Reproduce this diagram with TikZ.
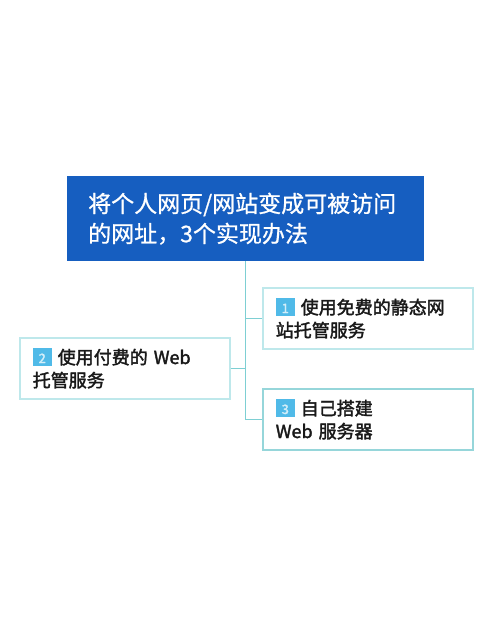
\documentclass[tikz,border=0pt]{standalone}
\usepackage{fontspec}
\setmainfont{Noto Sans CJK SC}
\newfontfamily\medfont{Noto Sans CJK SC}[FakeBold=0.8]
\newfontfamily\itemfont{Noto Sans CJK SC}[FakeBold=2]
\usepackage{xcolor}
\usetikzlibrary{positioning}

\definecolor{titleblue}{RGB}{22,94,192}
\definecolor{boxline}{RGB}{190,232,235}
\definecolor{boxlinedark}{RGB}{150,214,218}
\definecolor{linkline}{RGB}{126,207,211}
\definecolor{badgeblue}{RGB}{80,186,232}
\definecolor{textdark}{RGB}{25,25,25}

\newcommand{\numbadge}[1]{{\setlength{\fboxsep}{0pt}\raisebox{-2pt}{\colorbox{badgeblue}{\makebox[19pt][c]{\rule{0pt}{18pt}\raisebox{3pt}{\fontsize{13pt}{13pt}\selectfont\color{white!75!badgeblue}#1}}}}}}

\tikzset{
  titlebox/.style={rectangle, fill=titleblue, anchor=north west, minimum width=357pt, minimum height=85pt,
    inner xsep=21pt, text width=315pt, align=left, text=white, font=\medfont\fontsize{23pt}{30pt}\selectfont},
  itembox/.style={rectangle, draw=boxline, line width=1.5pt, fill=white, anchor=north west,
    minimum width=210pt, minimum height=61pt, inner xsep=13pt, text width=184pt, align=left,
    text=textdark, font=\itemfont\fontsize{18pt}{23pt}\selectfont},
  link/.style={draw=linkline, line width=1.5pt}
}

\begin{document}
\begin{tikzpicture}[x=1pt, y=-1pt]
    \useasboundingbox[fill=white] (0,0) rectangle (490,643);

    \node[titlebox] at (67,176) (main) {将个人网页/网站变成可被访问\\的网址，3个实现办法};
    \node[itembox] at (262,287) (host1) {\numbadge{1} 使用免费的静态网\\站托管服务};
    \node[itembox] at (19,337) (host2) {\numbadge{2} 使用付费的 Web\\托管服务};
    \node[itembox, draw=boxlinedark] at (262,388) (host3) {\numbadge{3} 自己搭建\\Web 服务器};

    \draw[link] (main.south) |- (host3.west);
    \draw[link] (main.south |- host1.west) -- (host1.west);
    \draw[link] (host2.east) -- (main.south |- host2.east);
\end{tikzpicture}
\end{document}
